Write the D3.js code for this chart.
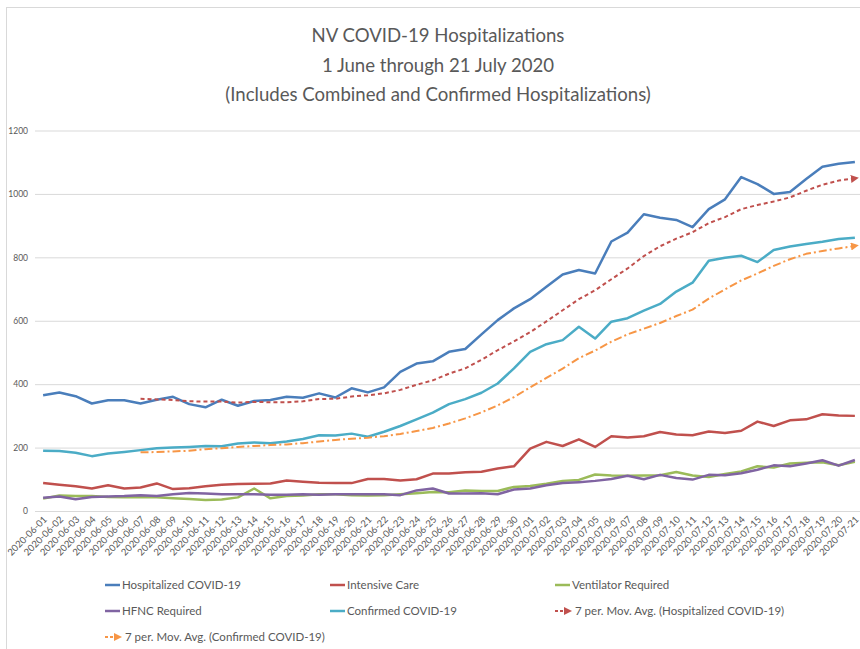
<!DOCTYPE html>
<html>
<head>
<meta charset="utf-8">
<script src="https://cdn.jsdelivr.net/npm/d3@7"></script>
<style>
  body { margin: 0; background: #fff; }
  svg { display: block; }
  text { font-family: Lato, "Open Sans", sans-serif; fill: #595959; }
</style>
</head>
<body>
<div id="chart"></div>
<script>
const dates = [
  "2020-06-01","2020-06-02","2020-06-03","2020-06-04","2020-06-05","2020-06-06","2020-06-07",
  "2020-06-08","2020-06-09","2020-06-10","2020-06-11","2020-06-12","2020-06-13","2020-06-14",
  "2020-06-15","2020-06-16","2020-06-17","2020-06-18","2020-06-19","2020-06-20","2020-06-21",
  "2020-06-22","2020-06-23","2020-06-24","2020-06-25","2020-06-26","2020-06-27","2020-06-28",
  "2020-06-29","2020-06-30","2020-07-01","2020-07-02","2020-07-03","2020-07-04","2020-07-05",
  "2020-07-06","2020-07-07","2020-07-08","2020-07-09","2020-07-10","2020-07-11","2020-07-12",
  "2020-07-13","2020-07-14","2020-07-15","2020-07-16","2020-07-17","2020-07-18","2020-07-19",
  "2020-07-20","2020-07-21"
];

const hospitalized = [365,374,362,339,349,349,339,351,360,337,327,351,332,347,350,360,357,371,358,387,
  374,390,439,465,472,502,511,557,602,639,668,707,746,760,749,850,878,936,925,918,
  895,952,983,1053,1031,1000,1006,1047,1086,1095,1101];
const intensiveCare = [88,83,78,71,81,71,74,87,69,72,78,83,85,86,87,96,92,89,88,88,
  101,101,96,100,118,118,122,124,134,141,197,218,205,226,202,236,232,236,249,241,
  239,251,246,253,282,268,286,289,305,301,300];
const ventilator = [39,49,47,47,44,43,43,43,40,38,35,36,43,71,40,47,49,53,53,50,
  49,50,53,56,60,59,65,63,63,76,79,86,95,98,115,112,111,112,113,123,
  112,107,117,125,141,137,150,152,154,144,155];
const hfnc = [42,46,37,44,46,47,50,47,53,57,55,53,53,53,51,51,53,51,53,53,
  53,53,50,65,71,55,55,56,53,68,71,81,88,91,95,101,111,100,114,104,
  99,114,113,119,130,144,141,150,160,143,161];
const confirmed = [190,189,184,173,181,186,192,198,200,202,205,204,213,216,214,219,227,239,238,244,
  234,250,268,289,310,337,353,373,402,450,502,526,539,581,544,597,608,632,653,692,
  720,789,799,805,785,823,834,842,849,858,862];
// 7 per. moving averages (first value on 2020-06-07)
const maHospitalized = [null,null,null,null,null,null,354,352,350,346,345,345,342,344,343,343,346,353,354,361,
  365,371,382,398,412,433,450,477,507,535,564,598,633,668,696,731,765,804,835,859,
  879,908,927,952,965,976,989,1010,1029,1042,1049];
const maConfirmed = [null,null,null,null,null,null,185,186,188,190,195,198,202,205,208,210,214,219,224,228,
  231,236,243,252,262,276,292,311,333,359,390,420,449,482,506,534,557,575,593,615,
  635,670,699,727,749,773,794,811,820,828,836];

const yTicks = [0, 200, 400, 600, 800, 1000, 1200];
const titleLines = ["NV COVID-19 Hospitalizations", "1 June through 21 July 2020",
  "(Includes Combined and Confirmed Hospitalizations)"];

const series = [
  { name: "Hospitalized COVID-19", values: hospitalized, color: "#4a7ebb" },
  { name: "Intensive Care", values: intensiveCare, color: "#c0504d" },
  { name: "Ventilator Required", values: ventilator, color: "#9bbb59" },
  { name: "HFNC Required", values: hfnc, color: "#8064a2" },
  { name: "Confirmed COVID-19", values: confirmed, color: "#4bacc6" },
  { name: "7 per. Mov. Avg. (Hospitalized COVID-19)", values: maHospitalized, color: "#c0504d", dash: "4,3", arrow: true },
  { name: "7 per. Mov. Avg. (Confirmed COVID-19)", values: maConfirmed, color: "#f79646", dash: "8,3,2,3", arrow: true }
];

const width = 860, height = 649;

const svg = d3.select("#chart").append("svg")
  .attr("width", width)
  .attr("height", height);

svg.append("rect")
  .attr("x", 6.5).attr("y", 7.5)
  .attr("width", width).attr("height", height)
  .attr("fill", "none").attr("stroke", "#d9d9d9");

const x = d3.scalePoint().domain(dates).range([35, 863]).padding(0.5);
const y = d3.scaleLinear().domain([0, 1200]).range([511, 130.5]);

// title
svg.append("g").selectAll("text")
  .data(titleLines)
  .join("text")
  .attr("x", 438)
  .attr("y", (d, i) => 42 + i * 29.5)
  .attr("text-anchor", "middle")
  .attr("font-size", 18.6)
  .text(d => d);

// gridlines + y labels
const yAxis = d3.axisLeft(y).tickValues(yTicks).tickFormat(d3.format("d")).tickSize(0).tickPadding(7);
const gy = svg.append("g").attr("transform", "translate(35,0)").call(yAxis);
gy.select(".domain").remove();
gy.selectAll("text").attr("font-size", 8.5).attr("fill", "#595959");
gy.selectAll(".tick").append("line")
  .attr("x2", 828)
  .attr("stroke", "#d9d9d9")
  .attr("stroke-width", 1);

// x labels
const xAxis = d3.axisBottom(x).tickSize(0).tickPadding(0);
const gx = svg.append("g").attr("transform", "translate(0,511)").call(xAxis);
gx.select(".domain").remove();
gx.selectAll("text")
  .attr("font-size", 9.5)
  .attr("fill", "#595959")
  .attr("text-anchor", "end")
  .attr("dy", null)
  .attr("y", 0)
  .attr("transform", "translate(4,9) rotate(-45)");

// arrow markers
const defs = svg.append("defs");
series.filter(s => s.arrow).forEach((s, i) => {
  defs.append("marker")
    .attr("id", "arrow" + i)
    .attr("viewBox", "0 0 10 10")
    .attr("refX", 5).attr("refY", 5)
    .attr("markerWidth", 4).attr("markerHeight", 4)
    .attr("markerUnits", "strokeWidth")
    .attr("orient", "auto")
    .append("path")
    .attr("d", "M0,0L10,5L0,10Z")
    .attr("fill", s.color);
  s.marker = "url(#arrow" + i + ")";
});

const line = d3.line()
  .defined(d => d.v != null)
  .x(d => x(d.date))
  .y(d => y(d.v));

svg.append("g").selectAll("path")
  .data(series)
  .join("path")
  .attr("d", s => line(s.values.map((v, i) => ({ date: dates[i], v }))))
  .attr("fill", "none")
  .attr("stroke", s => s.color)
  .attr("stroke-width", s => s.dash ? 2 : 2.5)
  .attr("stroke-dasharray", s => s.dash || null)
  .attr("stroke-linejoin", "round")
  .attr("marker-end", s => s.marker || null);

// legend
const legendCols = [105, 330, 555];
const legend = svg.append("g").selectAll("g")
  .data(series)
  .join("g")
  .attr("transform", (d, i) => `translate(${legendCols[i % 3]},${585 + Math.floor(i / 3) * 26})`);

legend.append("line")
  .attr("x1", 0).attr("x2", s => s.arrow ? 13 : 15)
  .attr("stroke", s => s.color)
  .attr("stroke-width", s => s.dash ? 2 : 2.5)
  .attr("stroke-dasharray", s => s.dash ? "3,2" : null)
  .attr("marker-end", s => s.marker || null);

legend.append("text")
  .attr("x", s => s.arrow ? 20 : 17)
  .attr("dy", "0.35em")
  .attr("font-size", 11.5)
  .text(s => s.name);
</script>
</body>
</html>
